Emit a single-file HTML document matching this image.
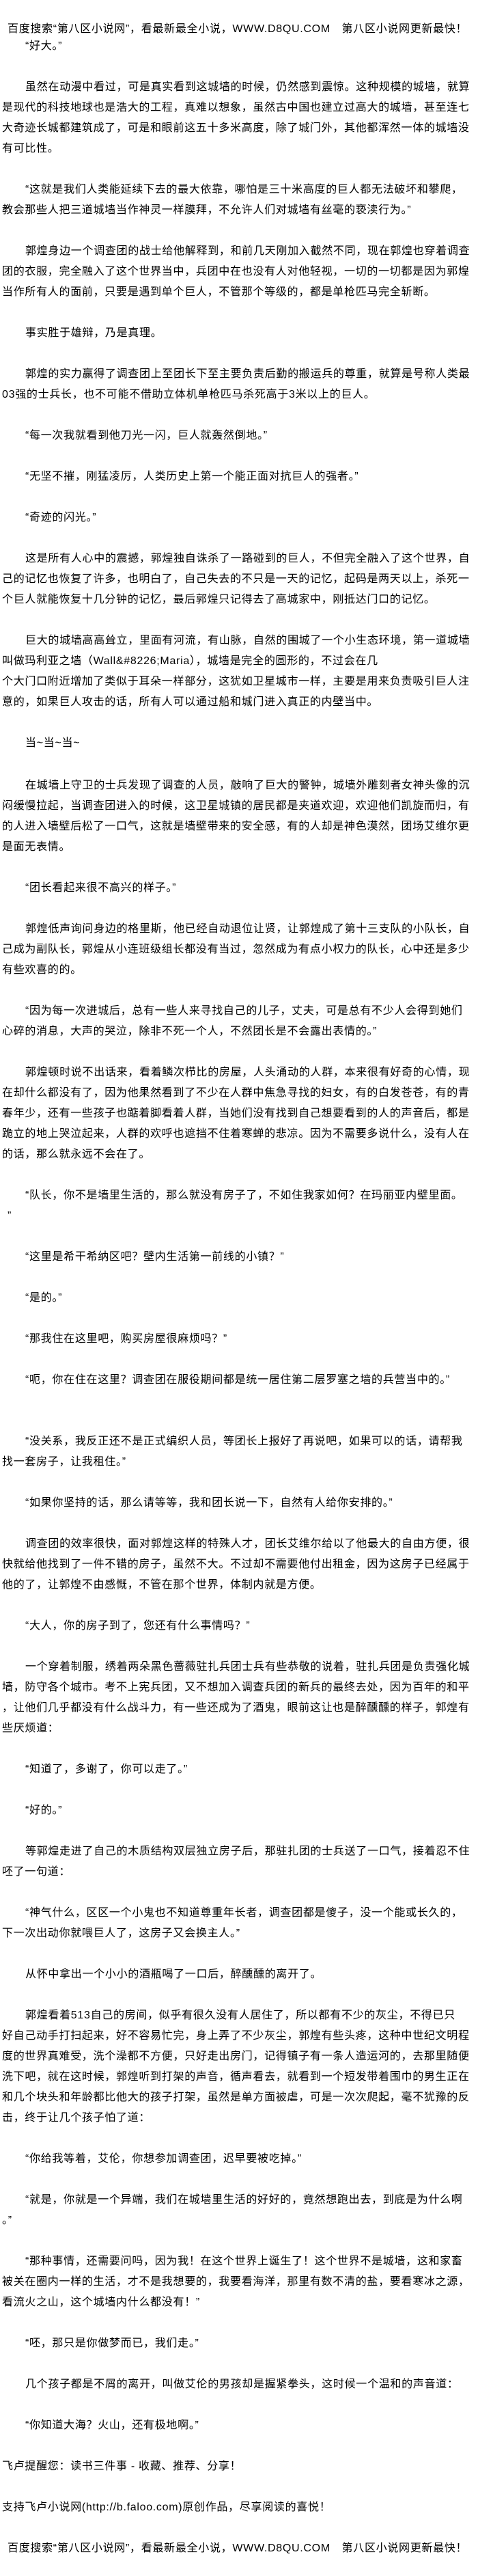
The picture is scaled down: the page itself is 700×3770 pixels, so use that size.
<!DOCTYPE html>
<html><head><meta charset="utf-8">
<style>
html,body{margin:0;padding:0;background:#fff;}
body{width:700px;height:3770px;position:relative;overflow:hidden;
font-family:"Liberation Sans","Noto Sans CJK SC",sans-serif;font-size:16px;color:#000;letter-spacing:0.7px;}
.l{position:absolute;left:3px;height:30px;line-height:30px;white-space:nowrap;}
.i{left:37px;}
.h{left:11px;}
</style></head><body>
<div class="l h" style="top:28px">百度搜索“第八区小说网”，看最新最全小说，WWW.D8QU.COM　第八区小说网更新最快！</div>
<div class="l i" style="top:53px">“好大。”</div>
<div class="l i" style="top:113px">虽然在动漫中看过，可是真实看到这城墙的时候，仍然感到震惊。这种规模的城墙，就算</div>
<div class="l" style="top:143px">是现代的科技地球也是浩大的工程，真难以想象，虽然古中国也建立过高大的城墙，甚至连七</div>
<div class="l" style="top:173px">大奇迹长城都建筑成了，可是和眼前这五十多米高度，除了城门外，其他都浑然一体的城墙没</div>
<div class="l" style="top:203px">有可比性。</div>
<div class="l i" style="top:263px">“这就是我们人类能延续下去的最大依靠，哪怕是三十米高度的巨人都无法破坏和攀爬，</div>
<div class="l" style="top:293px">教会那些人把三道城墙当作神灵一样膜拜，不允许人们对城墙有丝毫的亵渎行为。”</div>
<div class="l i" style="top:353px">郭煌身边一个调查团的战士给他解释到，和前几天刚加入截然不同，现在郭煌也穿着调查</div>
<div class="l" style="top:383px">团的衣服，完全融入了这个世界当中，兵团中在也没有人对他轻视，一切的一切都是因为郭煌</div>
<div class="l" style="top:413px">当作所有人的面前，只要是遇到单个巨人，不管那个等级的，都是单枪匹马完全斩断。</div>
<div class="l i" style="top:473px">事实胜于雄辩，乃是真理。</div>
<div class="l i" style="top:533px">郭煌的实力赢得了调查团上至团长下至主要负责后勤的搬运兵的尊重，就算是号称人类最</div>
<div class="l" style="top:563px">03强的士兵长，也不可能不借助立体机单枪匹马杀死高于3米以上的巨人。</div>
<div class="l i" style="top:623px">“每一次我就看到他刀光一闪，巨人就轰然倒地。”</div>
<div class="l i" style="top:683px">“无坚不摧，刚猛凌厉，人类历史上第一个能正面对抗巨人的强者。”</div>
<div class="l i" style="top:743px">“奇迹的闪光。”</div>
<div class="l i" style="top:803px">这是所有人心中的震撼，郭煌独自诛杀了一路碰到的巨人，不但完全融入了这个世界，自</div>
<div class="l" style="top:833px">己的记忆也恢复了许多，也明白了，自己失去的不只是一天的记忆，起码是两天以上，杀死一</div>
<div class="l" style="top:863px">个巨人就能恢复十几分钟的记忆，最后郭煌只记得去了高城家中，刚抵达门口的记忆。</div>
<div class="l i" style="top:923px">巨大的城墙高高耸立，里面有河流，有山脉，自然的围城了一个小生态环境，第一道城墙</div>
<div class="l" style="top:953px">叫做玛利亚之墙（Wall&amp;#8226;Maria），城墙是完全的圆形的，不过会在几</div>
<div class="l" style="top:983px">个大门口附近增加了类似于耳朵一样部分，这犹如卫星城市一样，主要是用来负责吸引巨人注</div>
<div class="l" style="top:1013px">意的，如果巨人攻击的话，所有人可以通过船和城门进入真正的内壁当中。</div>
<div class="l i" style="top:1073px">当~当~当~</div>
<div class="l i" style="top:1135px">在城墙上守卫的士兵发现了调查的人员，敲响了巨大的警钟，城墙外雕刻者女神头像的沉</div>
<div class="l" style="top:1165px">闷缓慢拉起，当调查团进入的时候，这卫星城镇的居民都是夹道欢迎，欢迎他们凯旋而归，有</div>
<div class="l" style="top:1195px">的人进入墙壁后松了一口气，这就是墙壁带来的安全感，有的人却是神色漠然，团场艾维尔更</div>
<div class="l" style="top:1225px">是面无表情。</div>
<div class="l i" style="top:1285px">“团长看起来很不高兴的样子。”</div>
<div class="l i" style="top:1345px">郭煌低声询问身边的格里斯，他已经自动退位让贤，让郭煌成了第十三支队的小队长，自</div>
<div class="l" style="top:1375px">己成为副队长，郭煌从小连班级组长都没有当过，忽然成为有点小权力的队长，心中还是多少</div>
<div class="l" style="top:1405px">有些欢喜的的。</div>
<div class="l i" style="top:1465px">“因为每一次进城后，总有一些人来寻找自己的儿子，丈夫，可是总有不少人会得到她们</div>
<div class="l" style="top:1495px">心碎的消息，大声的哭泣，除非不死一个人，不然团长是不会露出表情的。”</div>
<div class="l i" style="top:1555px">郭煌顿时说不出话来，看着鳞次栉比的房屋，人头涌动的人群，本来很有好奇的心情，现</div>
<div class="l" style="top:1585px">在却什么都没有了，因为他果然看到了不少在人群中焦急寻找的妇女，有的白发苍苍，有的青</div>
<div class="l" style="top:1615px">春年少，还有一些孩子也踮着脚看着人群，当她们没有找到自己想要看到的人的声音后，都是</div>
<div class="l" style="top:1645px">跪立的地上哭泣起来，人群的欢呼也遮挡不住着寒蝉的悲凉。因为不需要多说什么，没有人在</div>
<div class="l" style="top:1675px">的话，那么就永远不会在了。</div>
<div class="l i" style="top:1735px">“队长，你不是墙里生活的，那么就没有房子了，不如住我家如何？在玛丽亚内壁里面。</div>
<div class="l h" style="top:1765px">”</div>
<div class="l i" style="top:1825px">“这里是希干希纳区吧？壁内生活第一前线的小镇？”</div>
<div class="l i" style="top:1885px">“是的。”</div>
<div class="l i" style="top:1945px">“那我住在这里吧，购买房屋很麻烦吗？”</div>
<div class="l i" style="top:2005px">“呃，你在住在这里？调查团在服役期间都是统一居住第二层罗塞之墙的兵营当中的。”</div>
<div class="l i" style="top:2095px">“没关系，我反正还不是正式编织人员，等团长上报好了再说吧，如果可以的话，请帮我</div>
<div class="l" style="top:2125px">找一套房子，让我租住。”</div>
<div class="l i" style="top:2185px">“如果你坚持的话，那么请等等，我和团长说一下，自然有人给你安排的。”</div>
<div class="l i" style="top:2245px">调查团的效率很快，面对郭煌这样的特殊人才，团长艾维尔给以了他最大的自由方便，很</div>
<div class="l" style="top:2275px">快就给他找到了一件不错的房子，虽然不大。不过却不需要他付出租金，因为这房子已经属于</div>
<div class="l" style="top:2305px">他的了，让郭煌不由感慨，不管在那个世界，体制内就是方便。</div>
<div class="l i" style="top:2365px">“大人，你的房子到了，您还有什么事情吗？”</div>
<div class="l i" style="top:2425px">一个穿着制服，绣着两朵黑色蔷薇驻扎兵团士兵有些恭敬的说着，驻扎兵团是负责强化城</div>
<div class="l" style="top:2455px">墙，防守各个城市。考不上宪兵团，又不想加入调查兵团的新兵的最终去处，因为百年的和平</div>
<div class="l" style="top:2485px">，让他们几乎都没有什么战斗力，有一些还成为了酒鬼，眼前这让也是醉醺醺的样子，郭煌有</div>
<div class="l" style="top:2515px">些厌烦道：</div>
<div class="l i" style="top:2575px">“知道了，多谢了，你可以走了。”</div>
<div class="l i" style="top:2635px">“好的。”</div>
<div class="l i" style="top:2695px">等郭煌走进了自己的木质结构双层独立房子后，那驻扎团的士兵送了一口气，接着忍不住</div>
<div class="l" style="top:2725px">呸了一句道：</div>
<div class="l i" style="top:2785px">“神气什么，区区一个小鬼也不知道尊重年长者，调查团都是傻子，没一个能或长久的，</div>
<div class="l" style="top:2815px">下一次出动你就喂巨人了，这房子又会换主人。”</div>
<div class="l i" style="top:2875px">从怀中拿出一个小小的酒瓶喝了一口后，醉醺醺的离开了。</div>
<div class="l i" style="top:2935px">郭煌看着513自己的房间，似乎有很久没有人居住了，所以都有不少的灰尘，不得已只</div>
<div class="l" style="top:2965px">好自己动手打扫起来，好不容易忙完，身上弄了不少灰尘，郭煌有些头疼，这种中世纪文明程</div>
<div class="l" style="top:2995px">度的世界真难受，洗个澡都不方便，只好走出房门，记得镇子有一条人造运河的，去那里随便</div>
<div class="l" style="top:3025px">洗下吧，就在这时候，郭煌听到打架的声音，循声看去，就看到一个短发带着围巾的男生正在</div>
<div class="l" style="top:3055px">和几个块头和年龄都比他大的孩子打架，虽然是单方面被虐，可是一次次爬起，毫不犹豫的反</div>
<div class="l" style="top:3085px">击，终于让几个孩子怕了道：</div>
<div class="l i" style="top:3145px">“你给我等着，艾伦，你想参加调查团，迟早要被吃掉。”</div>
<div class="l i" style="top:3205px">“就是，你就是一个异端，我们在城墙里生活的好好的，竟然想跑出去，到底是为什么啊</div>
<div class="l" style="top:3235px">。”</div>
<div class="l i" style="top:3295px">“那种事情，还需要问吗，因为我！在这个世界上诞生了！这个世界不是城墙，这和家畜</div>
<div class="l" style="top:3325px">被关在圈内一样的生活，才不是我想要的，我要看海洋，那里有数不清的盐，要看寒冰之源，</div>
<div class="l" style="top:3355px">看流火之山，这个城墙内什么都没有！”</div>
<div class="l i" style="top:3415px">“呸，那只是你做梦而已，我们走。”</div>
<div class="l i" style="top:3475px">几个孩子都是不屑的离开，叫做艾伦的男孩却是握紧拳头，这时候一个温和的声音道：</div>
<div class="l i" style="top:3535px">“你知道大海？火山，还有极地啊。”</div>
<div class="l" style="top:3595px">飞卢提醒您：读书三件事 - 收藏、推荐、分享！</div>
<div class="l" style="top:3655px">支持飞卢小说网(http://b.faloo.com)原创作品，尽享阅读的喜悦！</div>
<div class="l h" style="top:3715px">百度搜索“第八区小说网”，看最新最全小说，WWW.D8QU.COM　第八区小说网更新最快！</div>
</body></html>
